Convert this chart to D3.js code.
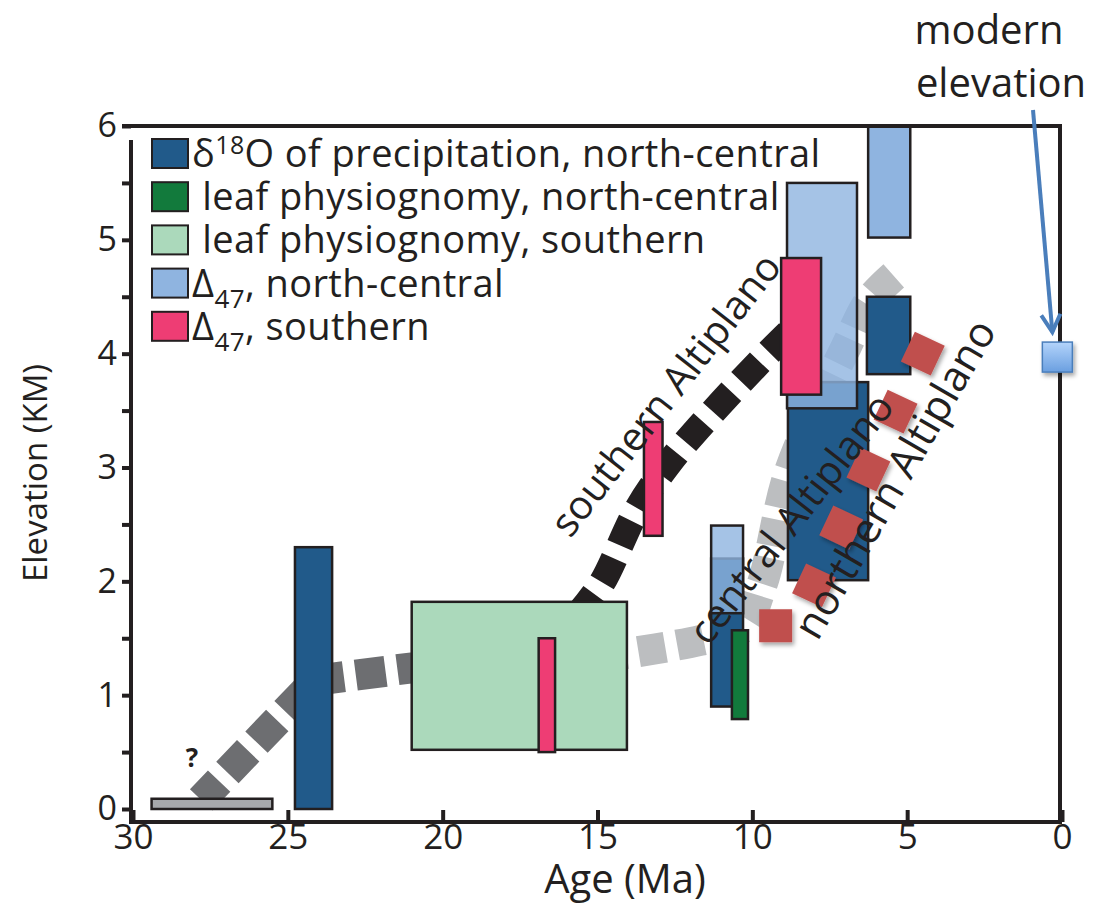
<!DOCTYPE html>
<html>
<head>
<meta charset="utf-8">
<script src="https://cdn.jsdelivr.net/npm/d3@7"></script>
<style>
body { margin: 0; background: #fff; }
svg text { font-family: "Open Sans", "Noto Sans", sans-serif; fill: #231f20; }
</style>
</head>
<body>
<div id="chart-area"></div>
<script>
// Boxes: [older age, younger age, low elevation, high elevation] (Ma, km)
var d18oNorthCentral = [[24.77, 23.57, 0, 2.3], [11.33, 10.3, 0.9, 2.2], [8.85, 6.26, 2.01, 3.75], [6.3, 4.9, 3.82, 4.5]];
var leafNorthCentral = [[10.66, 10.14, 0.79, 1.57]];
var leafSouthern = [[21.0, 14.05, 0.52, 1.82]];
var d47NorthCentral = [[11.33, 10.3, 1.72, 2.49], [8.88, 6.62, 3.52, 5.5], [6.26, 4.9, 5.02, 6.0]];
var d47Southern = [[16.9, 16.37, 0.5, 1.5], [13.5, 12.9, 2.4, 3.4], [9.07, 7.78, 3.64, 4.84]];
var uncertainBar = [[29.4, 25.5, 0, 0.09]];

// Uplift paths: [age, elevation]
var earlyPath = [[27.8, 0.08], [24.1, 1.13], [21.0, 1.24], [19.0, 1.26]];
var centralPath = [[14.92, 1.33], [11.69, 1.48], [10.33, 1.59], [9.69, 1.97], [8.78, 2.98], [6.97, 4.06], [6.2, 4.47], [5.28, 4.72]];
var southernPath = [[15.56, 1.73], [14.85, 1.99], [13.72, 2.63], [12.66, 3.05], [11.37, 3.46], [9.65, 3.96], [8.46, 4.28]];
var northernPath = [[9.78, 1.61], [8.62, 1.61], [4.15, 4.2]];

var modernElevation = [0.15, 3.97];

var xTicks = [30, 25, 20, 15, 10, 5, 0];
var yTicks = [0, 0.5, 1, 1.5, 2, 2.5, 3, 3.5, 4, 4.5, 5, 5.5, 6];

var legendLabels = ["δ18O of precipitation, north-central", " leaf physiognomy, north-central", " leaf physiognomy, southern", "Δ47, north-central", "Δ47, southern"];
var pathLabels = ["southern Altiplano", "central Altiplano", "northern Altiplano"];

// colours
var colDarkBlue = "#215a8a", colDarkGreen = "#127a3c", colLightGreen = "#abd9bb",
    colLightBlue = "#8fb4e0", colPink = "#ee3d74", colEdge = "#231f20";

var width = 1104, height = 907;

var svg = d3.select("#chart-area").append("svg")
    .attr("width", width)
    .attr("height", height);

var defs = svg.append("defs");
defs.append("filter").attr("id", "shadow")
    .attr("x", "-30%").attr("y", "-30%").attr("width", "160%").attr("height", "160%")
    .append("feDropShadow")
    .attr("dx", 2).attr("dy", 3).attr("stdDeviation", 2)
    .attr("flood-color", "#000").attr("flood-opacity", 0.35);
var grad = defs.append("linearGradient").attr("id", "modernGrad")
    .attr("x1", 0).attr("y1", 0).attr("x2", 0).attr("y2", 1);
grad.append("stop").attr("offset", "0%").attr("stop-color", "#b4d4fb");
grad.append("stop").attr("offset", "100%").attr("stop-color", "#6a9fe0");

// scales
var x = d3.scaleLinear().domain([30, 0]).range([133, 1062]);
var y = d3.scaleLinear().domain([0, 6]).range([809, 126]);

// dashed uplift paths (behind the boxes)
var line = d3.line().x(function(d) { return x(d[0]); }).y(function(d) { return y(d[1]); });
var smooth = d3.line().x(function(d) { return x(d[0]); }).y(function(d) { return y(d[1]); })
    .curve(d3.curveCatmullRom);

svg.append("path").attr("d", smooth(centralPath))
    .attr("fill", "none").attr("stroke", "#bcbec0").attr("stroke-width", 31)
    .attr("stroke-dasharray", "27,12");
svg.append("path").attr("d", line(earlyPath))
    .attr("fill", "none").attr("stroke", "#6d6e71").attr("stroke-width", 31)
    .attr("stroke-dasharray", "30,12").attr("stroke-dashoffset", 4);
svg.append("path").attr("d", smooth(southernPath))
    .attr("fill", "none").attr("stroke", colEdge).attr("stroke-width", 27)
    .attr("stroke-dasharray", "27,14").attr("stroke-dashoffset", 4);

// boxes
function drawBoxes(data, fill, opacityFn) {
    svg.append("g").selectAll("rect")
        .data(data)
        .enter()
        .append("rect")
        .attr("x", function(d) { return x(d[0]); })
        .attr("y", function(d) { return y(d[3]); })
        .attr("width", function(d) { return x(d[1]) - x(d[0]); })
        .attr("height", function(d) { return y(d[2]) - y(d[3]); })
        .attr("fill", fill)
        .attr("fill-opacity", opacityFn || 1)
        .attr("stroke", colEdge)
        .attr("stroke-width", 2.5);
}

function overlapsD18o(d) {
    return d18oNorthCentral.some(function(b) {
        return d[0] > b[1] && d[1] < b[0] && d[2] < b[3] && d[3] > b[2];
    });
}

drawBoxes(uncertainBar, "#a7a9ac");
drawBoxes(d18oNorthCentral, colDarkBlue);
drawBoxes(leafSouthern, colLightGreen);
drawBoxes(leafNorthCentral, colDarkGreen);
drawBoxes(d47NorthCentral, colLightBlue, function(d) { return overlapsD18o(d) ? 0.8 : 1; });
drawBoxes(d47Southern, colPink);

// northern Altiplano path (red squares, on top)
svg.append("path").attr("d", line(northernPath))
    .attr("fill", "none").attr("stroke", "#c0504d").attr("stroke-width", 33)
    .attr("stroke-dasharray", "33,31")
    .attr("filter", "url(#shadow)");

// path labels
var labelPlace = [
    {age: 12.8, elev: 3.64, angle: -52, size: 40},
    {age: 8.75, elev: 2.55, angle: -52, size: 40},
    {age: 5.4, elev: 2.9, angle: -60, size: 42}
];
svg.append("g").selectAll("text")
    .data(pathLabels)
    .enter()
    .append("text")
    .attr("transform", function(d, i) {
        var p = labelPlace[i];
        return "translate(" + x(p.age) + "," + y(p.elev) + ") rotate(" + p.angle + ")";
    })
    .attr("text-anchor", "middle")
    .attr("dy", "0.35em")
    .style("font-size", function(d, i) { return labelPlace[i].size + "px"; })
    .text(function(d) { return d; });

// "?" above the uncertain bar
svg.append("text")
    .attr("x", x(28.1)).attr("y", y(0.37))
    .attr("text-anchor", "middle")
    .style("font-size", "26px").style("font-weight", "bold")
    .text("?");

// axes
var yAxis = d3.axisLeft(y)
    .tickValues(yTicks)
    .tickSize(9)
    .tickPadding(5)
    .tickFormat(function(d) { return d % 1 === 0 ? d : ""; });
var gy = svg.append("g")
    .attr("transform", "translate(131,0)")
    .call(yAxis);
gy.select(".domain").remove();
gy.selectAll(".tick line").attr("stroke", colEdge).attr("stroke-width", 4);
gy.selectAll(".tick text").style("font-size", "34px").attr("fill", colEdge);

var xAxis = d3.axisBottom(x)
    .tickValues(xTicks)
    .tickSizeInner(-12)
    .tickSizeOuter(0)
    .tickPadding(2);
var gx = svg.append("g")
    .attr("transform", "translate(0,822)")
    .call(xAxis);
gx.select(".domain").remove();
gx.selectAll(".tick line").attr("stroke", colEdge).attr("stroke-width", 4);
gx.selectAll(".tick text").style("font-size", "35px").attr("fill", colEdge);

// frame
var frame = svg.append("g").attr("stroke", colEdge).attr("stroke-width", 4).attr("fill", "none");
frame.append("line").attr("x1", 122).attr("x2", 1062).attr("y1", 126).attr("y2", 126);
frame.append("line").attr("x1", 1060).attr("x2", 1060).attr("y1", 124).attr("y2", 824);
frame.append("line").attr("x1", 131).attr("x2", 131).attr("y1", 140).attr("y2", 824);
frame.append("line").attr("x1", 129).attr("x2", 1062).attr("y1", 822).attr("y2", 822);

// axis titles
svg.append("text")
    .attr("x", 625).attr("y", 893)
    .attr("text-anchor", "middle")
    .style("font-size", "40px")
    .text("Age (Ma)");
svg.append("text")
    .attr("transform", "translate(47,473) rotate(-90)")
    .attr("text-anchor", "middle")
    .style("font-size", "33px")
    .text("Elevation (KM)");

// legend
var legendFills = [colDarkBlue, colDarkGreen, colLightGreen, colLightBlue, colPink];
var legend = svg.append("g");
legendLabels.forEach(function(label, i) {
    var base = 167 + i * 43.2;
    legend.append("rect")
        .attr("x", 152).attr("y", base - 28)
        .attr("width", 36).attr("height", 29)
        .attr("fill", legendFills[i])
        .attr("stroke", colEdge).attr("stroke-width", 2);
    var t = legend.append("text")
        .attr("x", 192).attr("y", base)
        .style("font-size", "38px")
        .style("letter-spacing", "0.4px")
        .style("white-space", "pre");
    if (label.indexOf("δ18O") === 0) {
        t.append("tspan").text("δ");
        t.append("tspan").attr("dy", -13).style("font-size", "25px").text("18");
        t.append("tspan").attr("dy", 13).text(label.slice(3));
    } else if (label.indexOf("Δ47") === 0) {
        t.append("tspan").text("Δ");
        t.append("tspan").attr("dy", 11).style("font-size", "26px").text("47");
        t.append("tspan").attr("dy", -11).text(label.slice(3));
    } else {
        t.text(label);
    }
});

// modern elevation marker and annotation
var mx = x(modernElevation[0]), my = y(modernElevation[1]);
svg.append("rect")
    .attr("x", mx - 15).attr("y", my - 15)
    .attr("width", 30).attr("height", 30)
    .attr("fill", "url(#modernGrad)")
    .attr("stroke", "#4a7ebb").attr("stroke-width", 1.5)
    .attr("filter", "url(#shadow)");

var tip = [mx - 5, my - 25], start = [1033, 110];
var ang = Math.atan2(tip[1] - start[1], tip[0] - start[0]);
var head = 20, spread = 0.5;
var arrow = svg.append("g").attr("stroke", "#4a7ebb").attr("stroke-width", 4).attr("fill", "none");
arrow.append("line").attr("x1", start[0]).attr("y1", start[1]).attr("x2", tip[0]).attr("y2", tip[1]);
arrow.append("path")
    .attr("stroke-linejoin", "miter")
    .attr("d", "M" + (tip[0] - head * Math.cos(ang - spread)) + "," + (tip[1] - head * Math.sin(ang - spread)) +
        "L" + tip[0] + "," + tip[1] +
        "L" + (tip[0] - head * Math.cos(ang + spread)) + "," + (tip[1] - head * Math.sin(ang + spread)));

svg.append("text").attr("x", 989).attr("y", 44).attr("text-anchor", "middle")
    .style("font-size", "40px").text("modern");
svg.append("text").attr("x", 1001).attr("y", 97).attr("text-anchor", "middle")
    .style("font-size", "40px").text("elevation");
</script>
</body>
</html>
